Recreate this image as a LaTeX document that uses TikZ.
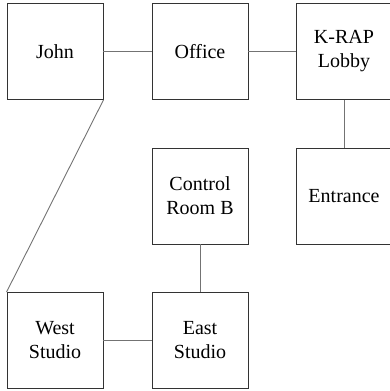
\documentclass[tikz,border=0pt]{standalone}
\usepackage{fontspec}
\setmainfont{Liberation Serif}
\begin{document}
\begin{tikzpicture}[x=1pt,y=1pt,
  room/.style={draw=black!80, line width=0.9pt, minimum width=96pt, minimum height=96pt,
    inner sep=0pt, align=center, font=\fontsize{20}{24}\selectfont},
  link/.style={draw=black!55, line width=0.9pt}]
\useasboundingbox (0,0) rectangle (389,391);
\node[room] (john)     at (55,339.5)  {John};
\node[room] (office)   at (200,339.5) {Office};
\node[room] (lobby)    at (344,339.5) {K-RAP\\Lobby};
\node[room] (control)  at (200,195)   {Control\\Room B};
\node[room] (entrance) at (344,195)   {Entrance};
\node[room] (west)     at (55,50.5)   {West\\Studio};
\node[room] (east)     at (200,50.5)  {East\\Studio};
\draw[link] (john) -- (office);
\draw[link] (office) -- (lobby);
\draw[link] (lobby) -- (entrance);
\draw[link] (control) -- (east);
\draw[link] (west) -- (east);
\draw[link] (john.south east) -- (west.north west);
\end{tikzpicture}
\end{document}
